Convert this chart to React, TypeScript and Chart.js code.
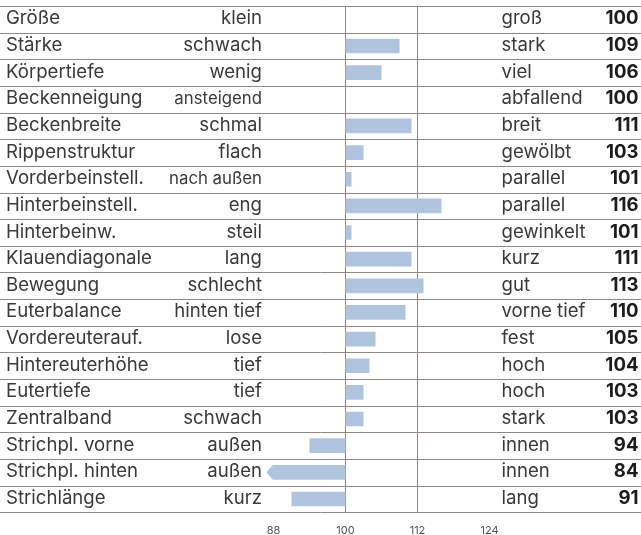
import React, { useEffect, useRef } from 'react';
import { Chart, registerables } from 'chart.js';

Chart.register(...registerables);

const traits = [
  'Größe', 'Stärke', 'Körpertiefe', 'Beckenneigung', 'Beckenbreite', 'Rippenstruktur',
  'Vorderbeinstell.', 'Hinterbeinstell.', 'Hinterbeinw.', 'Klauendiagonale', 'Bewegung',
  'Euterbalance', 'Vordereuterauf.', 'Hintereuterhöhe', 'Eutertiefe', 'Zentralband',
  'Strichpl. vorne', 'Strichpl. hinten', 'Strichlänge',
];
const lowLabels = [
  'klein', 'schwach', 'wenig', 'ansteigend', 'schmal', 'flach', 'nach außen', 'eng', 'steil',
  'lang', 'schlecht', 'hinten tief', 'lose', 'tief', 'tief', 'schwach', 'außen', 'außen', 'kurz',
];
const highLabels = [
  'groß', 'stark', 'viel', 'abfallend', 'breit', 'gewölbt', 'parallel', 'parallel', 'gewinkelt',
  'kurz', 'gut', 'vorne tief', 'fest', 'hoch', 'hoch', 'stark', 'innen', 'innen', 'lang',
];
const values = [100, 109, 106, 100, 111, 103, 101, 116, 101, 111, 113, 110, 105, 104, 103, 103, 94, 84, 91];
const baseline = 100;
const tickValues = [88, 100, 112, 124];
const gridValues = [100, 112];
const xMin = 86.8;
const xMax = 125;

const FONT = 'Inter, Lato, sans-serif';
const LINE = '#918783';
const BAR = '#b0c4de';
const TEXT = '#3a3a3a';
const VALUE = '#1c1c1c';

export default function App() {
  const ref = useRef<HTMLCanvasElement>(null);

  useEffect(() => {
    document.body.style.margin = '0';
    const canvas = ref.current;
    if (!canvas) return;

    const tablePlugin = {
      id: 'tablePlugin',
      afterDatasetsDraw(chart: any) {
        const { ctx, chartArea } = chart;
        const meta = chart.getDatasetMeta(0);
        values.forEach((v, i) => {
          if (v >= xMin) return;
          const el: any = meta.data[i];
          const top = el.y - el.height / 2;
          const bot = el.y + el.height / 2;
          const left = chartArea.left;
          const L = 6.6;
          ctx.save();
          ctx.fillStyle = '#ffffff';
          ctx.beginPath();
          ctx.moveTo(left + L, top);
          ctx.lineTo(left, el.y);
          ctx.lineTo(left - 2, el.y);
          ctx.lineTo(left - 2, top - 2);
          ctx.lineTo(left + L, top - 2);
          ctx.closePath();
          ctx.fill();
          ctx.beginPath();
          ctx.moveTo(left + L, bot);
          ctx.lineTo(left, el.y);
          ctx.lineTo(left - 2, el.y);
          ctx.lineTo(left - 2, bot + 2);
          ctx.lineTo(left + L, bot + 2);
          ctx.closePath();
          ctx.fill();
          ctx.restore();
        });
      },
      afterDraw(chart: any) {
        const { ctx, width } = chart;
        const yScale = chart.scales.y;
        const n = traits.length;
        ctx.save();
        ctx.strokeStyle = LINE;
        ctx.lineWidth = 1;
        for (let k = 0; k <= n; k++) {
          const y = Math.round(yScale.getPixelForValue(k - 0.5)) + 0.5;
          ctx.beginPath();
          ctx.moveTo(0, y);
          ctx.lineTo(width, y);
          ctx.stroke();
        }
        const nameX = 6;
        const lowRight = 262;
        const highLeft = 501.5;
        const valueRight = 638.5;
        const mainSize = 18.6;
        const smallSize = 16.8;
        for (let i = 0; i < n; i++) {
          const cy = yScale.getPixelForValue(i);
          const by = cy + 5;
          ctx.textBaseline = 'alphabetic';
          ctx.fillStyle = TEXT;
          ctx.font = `${mainSize}px ${FONT}`;
          ctx.textAlign = 'left';
          ctx.fillText(traits[i], nameX, by);
          const nameEnd = nameX + ctx.measureText(traits[i]).width;
          const avail = lowRight - nameEnd - 28;
          if (ctx.measureText(lowLabels[i]).width > avail) {
            ctx.font = `${smallSize}px ${FONT}`;
          }
          ctx.textAlign = 'right';
          ctx.fillText(lowLabels[i], lowRight, by);
          ctx.font = `${mainSize}px ${FONT}`;
          ctx.textAlign = 'left';
          ctx.fillText(highLabels[i], highLeft, by);
          ctx.font = `bold ${mainSize}px ${FONT}`;
          ctx.fillStyle = VALUE;
          ctx.textAlign = 'right';
          ctx.fillText(String(values[i]), valueRight, by);
        }
        ctx.restore();
      },
    };

    const chart = new Chart(canvas, {
      type: 'bar',
      data: {
        labels: traits,
        datasets: [
          {
            data: values.map((v) => [baseline, v]) as any,
            backgroundColor: BAR,
            borderWidth: 0,
            barPercentage: 0.55,
            categoryPercentage: 1,
          },
        ],
      },
      options: {
        indexAxis: 'y',
        responsive: false,
        animation: false,
        devicePixelRatio: 1,
        layout: { padding: { left: 266.3, right: 145.5, top: 6, bottom: 0 } },
        plugins: { legend: { display: false }, tooltip: { enabled: false } },
        scales: {
          x: {
            type: 'linear',
            min: xMin,
            max: xMax,
            afterBuildTicks: (scale: any) => {
              scale.ticks = tickValues.map((v) => ({ value: v }));
            },
            afterFit: (scale: any) => {
              scale.height = 22.7;
            },
            border: { display: false },
            grid: {
              drawTicks: false,
              color: (c: any) => (c.tick && gridValues.includes(c.tick.value) ? LINE : 'rgba(0,0,0,0)'),
              lineWidth: 1,
            },
            ticks: {
              padding: 12,
              color: '#555555',
              font: { family: FONT, size: 11 },
              maxRotation: 0,
              autoSkip: false,
            },
          },
          y: {
            display: false,
            grid: { display: false },
          },
        },
      },
      plugins: [tablePlugin],
    });
    return () => chart.destroy();
  }, []);

  return <canvas ref={ref} width={641} height={535} style={{ display: 'block' }} />;
}
